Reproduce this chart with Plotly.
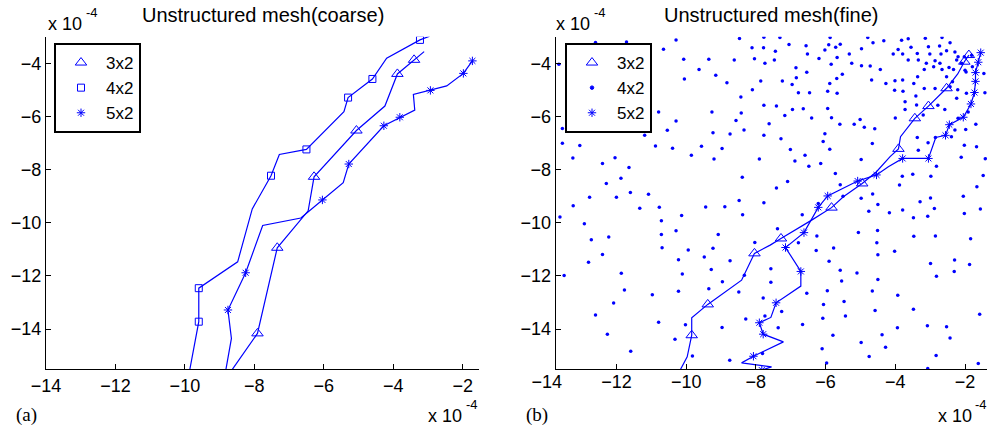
import plotly.graph_objects as go

BLUE = "#0000ff"
FONT = "Liberation Sans, Arial, Helvetica, sans-serif"
SERIF = "Liberation Serif, Times New Roman, serif"

# ---------------- data (units of 1e-4) ----------------
tick_vals_x = [-14, -12, -10, -8, -6, -4, -2]
tick_vals_y = [-14, -12, -10, -8, -6, -4]

# Panel (a): coarse mesh
coarse_3x2_x = [-3.11, -3.40, -3.88, -4.24, -5.06, -6.28, -6.45, -7.34, -7.91, -8.68]
coarse_3x2_y = [-3.56, -3.87, -4.40, -5.61, -6.53, -8.27, -9.55, -10.94, -14.16, -15.6]
coarse_3x2_marked = [1, 2, 4, 5, 7, 8]

coarse_4x2_x = [-2.95, -3.23, -4.19, -4.60, -5.30, -5.42, -6.50, -7.28, -7.52, -8.06, -8.48, -9.60, -9.60, -9.87]
coarse_4x2_y = [-2.98, -3.12, -3.81, -4.59, -5.29, -5.82, -7.24, -7.43, -8.23, -9.48, -11.47, -12.46, -13.72, -15.6]
coarse_4x2_marked = [1, 3, 4, 6, 8, 11, 12]

coarse_5x2_x = [-1.72, -1.98, -2.46, -2.93, -3.42, -3.38, -3.81, -4.27, -5.28, -5.44, -6.04, -6.66, -7.76, -8.25, -8.76, -8.66, -8.83]
coarse_5x2_y = [-3.91, -4.38, -4.85, -5.02, -5.17, -5.76, -6.03, -6.35, -7.79, -8.49, -9.14, -9.82, -10.10, -11.88, -13.28, -14.35, -15.6]
coarse_5x2_marked = [0, 1, 3, 6, 7, 8, 10, 13, 14]

# Panel (b): fine mesh
fine_3x2_x = [-1.89, -2.02, -2.21, -2.53, -3.05, -3.44, -3.85, -3.91, -4.15, -4.54, -4.95, -5.49, -5.83,
              -6.40, -7.28, -7.59, -8.04, -8.41, -9.38, -9.84, -9.84, -9.97, -10.20]
fine_3x2_y = [-3.69, -3.94, -4.40, -4.94, -5.61, -6.07, -6.76, -7.22, -7.51, -8.08, -8.52, -9.02, -9.43,
              -9.90, -10.59, -10.84, -11.15, -12.16, -13.07, -13.57, -14.23, -15.04, -15.61]
fine_3x2_marked = [0, 1, 3, 4, 5, 7, 10, 12, 14, 16, 18, 20]

fine_5x2_x = [-1.55, -1.62, -1.70, -1.70, -1.73, -1.83, -2.05, -2.45, -2.56, -2.84, -3.05, -3.79, -4.20,
              -4.54, -5.08, -5.94, -6.21, -6.62, -7.15, -6.71, -6.71, -7.42, -7.57, -7.90, -7.79, -7.21,
              -8.07, -8.41, -7.55, -7.83]
fine_5x2_y = [-3.60, -3.96, -4.35, -4.68, -5.10, -5.53, -6.03, -6.31, -6.71, -6.79, -7.58, -7.58, -7.89,
              -8.20, -8.43, -8.99, -9.42, -10.37, -10.93, -11.83, -12.38, -13.01, -13.56, -13.76, -14.19,
              -14.48, -15.02, -15.27, -15.42, -15.54]
fine_5x2_marked = [0, 1, 2, 3, 4, 5, 6, 7, 8, 10, 11, 13, 14, 15, 16, 17, 18, 19, 21, 23, 24, 26, 29]

fine_4x2_x = [
    -13.65, -12.60, -11.71, -10.29, -10.65, -8.47, -7.77, -8.11, -7.78, -10.07, -9.35, -8.62, -8.04, -7.74,
    -9.63, -9.15, -10.05, -8.83, -7.86, -8.10, -8.43, -7.77, -9.26, -8.42, -8.57, -7.62, -10.29, -10.79,
    -11.13, -10.54, -9.23, -8.74, -8.34, -7.77, -13.55, -11.19, -13.55, -13.05, -10.88, -10.39, -9.56, -8.97,
    -9.85, -9.20, -7.90, -13.25, -12.04, -12.40, -11.64, -8.39, -11.87, -12.29, -11.60, -11.08, -12.77, -12.00,
    -8.48, -7.77,
    -13.24, -13.62, -11.33, -10.77, -9.44, -8.89, -12.92, -10.71, -10.13, -8.38, -12.72, -12.22, -10.71, -10.29,
    -9.08, -8.03, -12.40, -10.69, -9.94, -9.23, -12.80, -10.22, -9.48, -8.74, -11.86, -13.50, -10.11, -9.28,
    -8.96, -11.77, -10.97, -10.22, -9.35, -8.49, -12.08, -7.79, -12.60, -10.79, -10.02, -8.97, -8.29, -7.74,
    -12.26, -10.32, -11.59, -9.82, -8.75, -7.81, -8.33,
    -6.67, -7.38, -7.57, -7.57, -6.25, -6.78, -6.27, -5.77, -5.90, -5.58, -5.54, -5.10, -5.06, -4.51, -4.53,
    -4.50, -4.02, -4.76, -4.50, -4.17, -3.79, -3.29, -3.48, -3.07, -2.88, -2.02, -1.56, -3.47, -2.85, -1.84,
    -2.99, -2.30, -1.87, -2.82, -2.31, -4.50, -6.54, -5.95, -4.66, -3.93, -6.06, -5.47, -4.58, -3.48, -6.08,
    -5.43, -7.26, -7.36, -6.66, -5.79, -4.38, -3.94, -3.08, -2.53, -2.43, -1.58, -4.98, -4.28, -6.10, -4.75,
    -2.83, -5.97, -3.07, -1.62,
    -7.31, -5.87, -4.79, -4.33, -3.82, -3.63, -3.14, -2.66, -7.05, -6.56, -5.91, -5.58, -4.64, -5.71, -4.97,
    -3.92, -3.55, -3.05, -2.73, -2.43, -7.44, -6.52, -6.02, -5.32, -4.06, -3.79, -3.37, -3.01, -2.69, -2.53,
    -2.29, -2.20, -7.47, -6.19, -5.67, -5.84, -5.25, -4.97, -4.72, -4.43, -3.63, -3.34, -3.11, -2.86, -2.72,
    -2.02, -1.81, -6.85, -6.54, -5.52, -5.68, -3.17, -2.90, -2.66, -2.46, -2.33, -2.10, -6.84, -7.24, -6.96,
    -5.88, -4.68, -4.27, -4.01, -3.79, -3.47, -3.36, -2.53, -2.36, -2.00, -6.78, -6.46, -5.94, -5.67, -4.02,
    -3.78, -3.17, -2.86, -1.96, -7.41, -6.95, -6.64, -5.94, -7.17, -6.40, -5.83, -5.01, -4.89, -5.18, -5.59,
    -4.59, -4.00, -3.72, -3.72, -3.41, -3.39, -3.20, -2.78, -2.58, -2.24, -2.20, -1.98, -1.69, -2.29, -2.39,
    -7.28, -6.07, -6.02, -5.88, -7.01, -6.59, -6.88, -6.48, -6.14, -5.72, -4.98, -4.66, -3.37, -3.34, -3.06,
    -2.85, -2.02, -1.67, -2.11, -1.42, -2.82, -3.80, -3.50, -2.98, -1.48, -1.66, -2.05, -2.99, -3.88, -4.65,
    -5.50, -4.98, -6.21, -7.09, -7.41, -5.58,
    -2.24, -1.97, -1.79, -1.46, -1.43, -2.21, -2.43, -1.91,
]
fine_4x2_y = [
    -4.04, -3.22, -3.20, -3.12, -3.47, -3.07, -3.02, -3.42, -3.42, -3.85, -3.85, -3.88, -3.83, -4.00,
    -4.23, -4.45, -4.59, -4.73, -4.67, -5.00, -5.27, -5.58, -5.83, -5.87, -6.15, -6.27, -6.17, -5.83,
    -6.28, -6.52, -6.61, -6.66, -6.51, -6.71, -6.45, -6.71, -7.01, -7.09, -7.11, -7.20, -7.12, -7.21,
    -7.46, -7.60, -7.60, -7.56, -7.55, -7.77, -7.92, -8.29, -8.32, -8.52, -8.86, -8.93, -9.04, -9.04,
    -9.16, -9.25,
    -9.36, -9.78, -9.45, -9.42, -9.41, -9.40, -10.04, -9.92, -9.73, -9.70, -10.64, -10.53, -10.44, -10.30,
    -10.44, -10.74, -11.19, -10.94, -11.02, -10.96, -11.48, -11.39, -11.29, -11.43, -11.90, -11.98, -11.93, -11.76,
    -12.22, -12.53, -12.71, -12.58, -12.48, -12.60, -13.02, -12.83, -13.47, -13.74, -13.84, -13.94, -13.62, -13.51,
    -14.19, -14.38, -14.83, -15.01, -15.17, -14.92, -11.97,
    -9.70, -10.22, -11.73, -12.24, -10.50, -10.75, -11.04, -10.95, -11.45, -11.79, -12.19, -11.89, -10.37, -10.29, -10.75,
    -11.20, -11.07, -9.57, -9.31, -9.62, -9.52, -9.21, -9.81, -9.75, -9.46, -9.65, -9.48, -10.51, -10.50, -10.60,
    -11.53, -11.40, -11.57, -12.01, -11.83, -12.13, -12.65, -12.56, -12.57, -12.73, -13.07, -12.96, -13.30, -13.25, -13.59,
    -13.51, -13.34, -13.95, -13.83, -14.23, -14.21, -13.95, -13.87, -13.91, -14.33, -13.44, -14.50, -14.68, -14.74, -15.03,
    -14.99, -15.27, -15.48, -15.29,
    -3.03, -3.03, -3.03, -3.15, -3.13, -3.08, -3.06, -3.03, -3.29, -3.34, -3.30, -3.28, -3.23, -3.40, -3.45,
    -3.48, -3.40, -3.38, -3.35, -3.23, -3.55, -3.65, -3.50, -3.65, -3.65, -3.65, -3.63, -3.65, -3.65, -3.53,
    -3.58, -3.75, -3.88, -3.82, -3.78, -4.04, -4.00, -4.09, -4.10, -4.23, -3.88, -3.88, -4.00, -3.90, -4.00,
    -3.75, -3.70, -4.17, -4.34, -4.41, -4.57, -4.23, -4.13, -4.23, -4.16, -4.23, -4.00, -4.54, -4.67, -4.80,
    -4.76, -4.63, -4.76, -4.66, -4.63, -4.76, -4.51, -4.51, -4.69, -4.26, -5.11, -5.11, -5.05, -5.13, -5.01,
    -5.05, -4.95, -4.95, -5.13, -5.61, -5.74, -5.71, -5.70, -5.96, -6.06, -6.05, -6.11, -6.41, -6.29, -6.29,
    -6.46, -6.06, -5.74, -5.45, -5.23, -5.57, -5.95, -5.58, -5.74, -5.32, -6.07, -6.49, -6.29, -6.51, -6.76,
    -6.84, -6.94, -6.65, -7.23, -7.24, -7.46, -7.68, -7.87, -7.77, -8.15, -7.62, -7.02, -6.79, -7.27, -6.99,
    -6.79, -7.08, -7.14, -7.53, -7.59, -7.87, -8.25, -8.17, -8.25, -8.22, -8.64, -9.00, -9.07, -8.58, -8.92,
    -9.00, -9.08, -9.27, -8.45, -8.69, -8.57,
    -3.88, -4.33, -4.13, -4.38, -5.11, -5.00, -4.88, -5.83,
]

legend_labels = ["3x2", "4x2", "5x2"]

# ---------------- figure ----------------
fig = go.Figure()


def add_path(x, y, marked, symbol, size, xa, ya):
    fig.add_trace(go.Scatter(x=x, y=y, mode="lines", line=dict(color=BLUE, width=1.2),
                             xaxis=xa, yaxis=ya, showlegend=False, hoverinfo="skip"))
    fig.add_trace(go.Scatter(x=[x[i] for i in marked], y=[y[i] for i in marked], mode="markers",
                             marker=dict(symbol=symbol, size=size, color=BLUE,
                                         line=dict(color=BLUE, width=1)),
                             xaxis=xa, yaxis=ya, showlegend=False, hoverinfo="skip"))


add_path(coarse_3x2_x, coarse_3x2_y, coarse_3x2_marked, "triangle-up-open", 10, "x", "y")
add_path(coarse_4x2_x, coarse_4x2_y, coarse_4x2_marked, "square-open", 7, "x", "y")
add_path(coarse_5x2_x, coarse_5x2_y, coarse_5x2_marked, "asterisk-open", 7, "x", "y")

fig.add_trace(go.Scatter(x=fine_4x2_x, y=fine_4x2_y, mode="markers",
                         marker=dict(symbol="circle", size=3.5, color=BLUE),
                         xaxis="x2", yaxis="y2", showlegend=False, hoverinfo="skip"))
add_path(fine_3x2_x, fine_3x2_y, fine_3x2_marked, "triangle-up-open", 10, "x2", "y2")
add_path(fine_5x2_x, fine_5x2_y, fine_5x2_marked, "asterisk-open", 7, "x2", "y2")

# empty trace on a frame-only subplot that draws panel (b)'s bottom axis line and ticks
fig.add_trace(go.Scatter(x=[None], y=[None], xaxis="x3", yaxis="y3", showlegend=False, hoverinfo="skip"))

# legend entries (marker only, as in the original)
left_syms = [("triangle-up-open", 10), ("square-open", 7), ("asterisk-open", 7)]
right_syms = [("triangle-up-open", 10), ("circle", 3.5), ("asterisk-open", 7)]
for lab, (sym, sz) in zip(legend_labels, left_syms):
    fig.add_trace(go.Scatter(x=[None], y=[None], mode="markers", name=lab, legend="legend",
                             marker=dict(symbol=sym, size=sz, color=BLUE, line=dict(color=BLUE, width=1)),
                             xaxis="x", yaxis="y"))
for lab, (sym, sz) in zip(legend_labels, right_syms):
    fig.add_trace(go.Scatter(x=[None], y=[None], mode="markers", name=lab, legend="legend2",
                             marker=dict(symbol=sym, size=sz, color=BLUE, line=dict(color=BLUE, width=1)),
                             xaxis="x2", yaxis="y2"))

W, H = 987, 430


def px(v):
    return v / W


def py(v):
    return 1 - v / H


axis_common = dict(showgrid=False, zeroline=False, showline=True, linecolor="black", linewidth=1,
                   ticks="inside", ticklen=5, tickwidth=1, tickcolor="black", mirror=False,
                   tickfont=dict(family=FONT, size=18, color="black"), automargin=False)

ydom = [py(369), py(36.7)]
legend_style = dict(xanchor="left", yanchor="top", bgcolor="white", bordercolor="black", borderwidth=2,
                    itemwidth=40, font=dict(family=FONT, size=17, color="black"))
fig.update_layout(
    width=W, height=H,
    margin=dict(l=0, r=0, t=0, b=0),
    paper_bgcolor="white", plot_bgcolor="rgba(0,0,0,0)",
    font=dict(family=FONT, color="black"),
    xaxis=dict(domain=[px(46), px(479)], range=[-14, -1.53], tickvals=tick_vals_x, anchor="y", **axis_common),
    yaxis=dict(domain=ydom, range=[-15.5, -3.0], tickvals=tick_vals_y, anchor="x", **axis_common),
    # panel (b): data axis (labels only) starts at -14, a little left of the drawn frame
    xaxis2=dict(domain=[px(546.7), 1.0], range=[-14, -1.37], tickvals=tick_vals_x, anchor="y2",
                **{**axis_common, "showline": False, "ticks": ""}),
    yaxis2=dict(domain=ydom, range=[-15.5, -3.0], tickvals=tick_vals_y, anchor="free",
                position=px(554.7), **axis_common),
    xaxis3=dict(domain=[px(554.7), 1.0], range=[-13.77, -1.37], tickvals=tick_vals_x, anchor="y3",
                showticklabels=False, **axis_common),
    yaxis3=dict(domain=ydom, range=[-15.5, -3.0], visible=False, anchor="x3"),
    legend=dict(x=px(54), y=py(43), **legend_style),
    legend2=dict(x=px(565), y=py(43), **legend_style),
)

annotations = [
    dict(text="Unstructured mesh(coarse)", x=px(262.5), y=py(15), xanchor="center", yanchor="middle", size=20),
    dict(text="Unstructured mesh(fine)", x=px(771), y=py(15), xanchor="center", yanchor="middle", size=20),
    dict(text="x 10", x=px(46), y=py(24), xanchor="left", yanchor="middle", size=18),
    dict(text="-4", x=px(84), y=py(12), xanchor="left", yanchor="middle", size=13),
    dict(text="x 10", x=px(554), y=py(24), xanchor="left", yanchor="middle", size=18),
    dict(text="-4", x=px(592), y=py(12), xanchor="left", yanchor="middle", size=13),
    dict(text="x 10", x=px(426), y=py(416), xanchor="left", yanchor="middle", size=18),
    dict(text="-4", x=px(464), y=py(404), xanchor="left", yanchor="middle", size=13),
    dict(text="x 10", x=px(936), y=py(416), xanchor="left", yanchor="middle", size=18),
    dict(text="-4", x=px(973), y=py(404), xanchor="left", yanchor="middle", size=13),
]
for a in annotations:
    fig.add_annotation(text=a["text"], x=a["x"], y=a["y"], xref="paper", yref="paper",
                       xanchor=a["xanchor"], yanchor=a["yanchor"], showarrow=False,
                       font=dict(family=FONT, size=a["size"], color="black"))
for lab, xpos in [("(a)", 14), ("(b)", 524)]:
    fig.add_annotation(text=lab, x=px(xpos), y=py(415), xref="paper", yref="paper",
                       xanchor="left", yanchor="middle", showarrow=False,
                       font=dict(family=SERIF, size=19, color="black"))

fig.write_html("out.html", config={"displayModeBar": False},
               post_script="document.body.style.margin='0px';document.body.style.overflow='hidden';")
